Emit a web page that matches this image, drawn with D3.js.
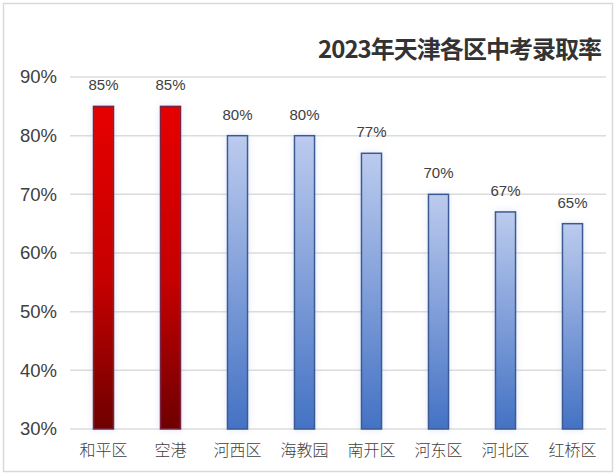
<!DOCTYPE html>
<html>
<head>
<meta charset="utf-8">
<script src="https://cdn.jsdelivr.net/npm/d3@7"></script>
<style>
body { margin: 0; background: #fff; }
svg { display: block; font-family: "Liberation Sans", "Noto Sans CJK SC", sans-serif; }
</style>
</head>
<body>
<svg id="chart" width="614" height="475"></svg>
<script>
// data
var districts = ["和平区", "空港", "河西区", "海教园", "南开区", "河东区", "河北区", "红桥区"];
var rates = [85, 85, 80, 80, 77, 70, 67, 65];
var highlight = [true, true, false, false, false, false, false, false];
var yTicks = [30, 40, 50, 60, 70, 80, 90];
var title = "2023年天津各区中考录取率";

var svg = d3.select("#chart");
var W = 614, H = 475;
var margin = {left: 70, right: 8, top: 77, bottom: 46};

// outer frame
svg.append("rect").attr("x", 3.5).attr("y", 3.5).attr("width", W - 5).attr("height", H - 7)
	.attr("fill", "#fff").attr("stroke", "#d9d9d9").attr("stroke-width", 1.5);

var defs = svg.append("defs");
var red = defs.append("linearGradient").attr("id", "gRed").attr("x1", 0).attr("y1", 0).attr("x2", 0).attr("y2", 1);
red.append("stop").attr("offset", "0%").attr("stop-color", "#e60000");
red.append("stop").attr("offset", "55%").attr("stop-color", "#c40000");
red.append("stop").attr("offset", "100%").attr("stop-color", "#6e0000");
var blue = defs.append("linearGradient").attr("id", "gBlue").attr("x1", 0).attr("y1", 0).attr("x2", 0).attr("y2", 1);
blue.append("stop").attr("offset", "0%").attr("stop-color", "#bccbee");
blue.append("stop").attr("offset", "100%").attr("stop-color", "#4472c4");
var glow = defs.append("filter").attr("id", "glow").attr("x", "-60%").attr("y", "-10%").attr("width", "220%").attr("height", "120%");
glow.append("feGaussianBlur").attr("in", "SourceAlpha").attr("stdDeviation", 3).attr("result", "b");
glow.append("feFlood").attr("flood-color", "#9db4e6").attr("flood-opacity", 0.35);
glow.append("feComposite").attr("in2", "b").attr("operator", "in");
var m = glow.append("feMerge");
m.append("feMergeNode");
m.append("feMergeNode").attr("in", "SourceGraphic");

var x = d3.scaleBand().domain(districts).range([margin.left, W - margin.right]).paddingInner(0.7).paddingOuter(0.35);
var y = d3.scaleLinear().domain([30, 90]).range([H - margin.bottom, margin.top]);

// grid
svg.append("g").selectAll("line").data(yTicks).join("line")
	.attr("x1", margin.left).attr("x2", W - 8)
	.attr("y1", d => y(d)).attr("y2", d => y(d))
	.attr("stroke", "#dcdcdc").attr("stroke-width", 1.5);

// y axis labels
svg.append("g").selectAll("text").data(yTicks).join("text")
	.attr("x", 57).attr("y", d => y(d)).attr("dy", "0.35em")
	.attr("text-anchor", "end").attr("font-size", 18.5).attr("fill", "#404040")
	.text(d => d + "%");

// bars
svg.append("g").selectAll("rect").data(rates).join("rect")
	.attr("x", (d, i) => x(districts[i]))
	.attr("y", d => y(d))
	.attr("width", x.bandwidth())
	.attr("height", d => y(30) - y(d))
	.attr("fill", (d, i) => highlight[i] ? "url(#gRed)" : "url(#gBlue)")
	.attr("stroke", (d, i) => highlight[i] ? "#7a2440" : "#3b5a92")
	.attr("stroke-width", 1.5)
	.attr("filter", "url(#glow)");

// value labels
svg.append("g").selectAll("text").data(rates).join("text")
	.attr("x", (d, i) => x(districts[i]) + x.bandwidth() / 2)
	.attr("y", d => y(d) - 16)
	.attr("text-anchor", "middle").attr("font-size", 15).attr("fill", "#404040")
	.text(d => d + "%");

// category labels
svg.append("g").selectAll("text").data(districts).join("text")
	.attr("x", d => x(d) + x.bandwidth() / 2)
	.attr("y", H - margin.bottom + 27)
	.attr("text-anchor", "middle").attr("font-size", 16).attr("fill", "#404040")
	.attr("font-family", "Noto Sans CJK SC").attr("font-weight", 300)
	.text(d => d);

// title
svg.append("text").attr("x", 602).attr("y", 58).attr("text-anchor", "end")
	.attr("font-size", 24).attr("font-weight", "bold").attr("fill", "#333")
	.attr("font-family", "Noto Sans CJK SC")
	.attr("textLength", 284).attr("lengthAdjust", "spacing")
	.text(title);
</script>
</body>
</html>
